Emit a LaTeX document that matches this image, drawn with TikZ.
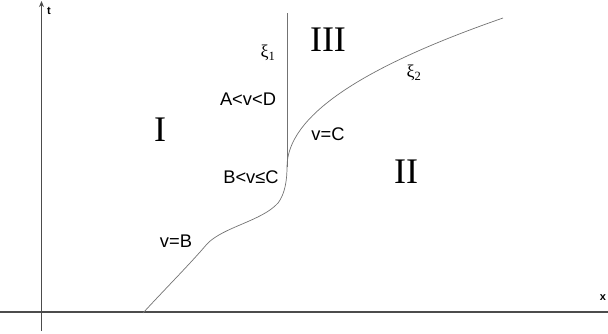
\documentclass[tikz,border=0pt]{standalone}
\usepackage{fontspec}
\setmainfont{Liberation Serif}
\setsansfont{Liberation Sans}
\usepackage{tikz}
\usetikzlibrary{arrows.meta}

\begin{document}
\begin{tikzpicture}[x=1pt, y=-1pt,
   axis/.style={draw=black!70, line width=1.3pt},
   front/.style={draw=black!55, line width=0.7pt},
   region/.style={font=\rmfamily\fontsize{36}{36}\selectfont},
   lab/.style={font=\sffamily\fontsize{18.3}{18.3}\selectfont},
   greek/.style={font=\rmfamily\fontsize{18}{18}\selectfont},
   axlab/.style={font=\sffamily\bfseries\fontsize{11}{11}\selectfont}]
  \useasboundingbox (0,0) rectangle (608,333);
  % axes
  \coordinate (xs) at (0,312);
  \coordinate (xe) at (612,312);
  \coordinate (ts) at (41.5,331);
  \coordinate (te) at (41.5,1);
  \draw[axis] (xs) -- (xe);
  \draw[axis, -{Stealth[length=6pt, width=5pt]}] (ts) -- (te);
  \node[axlab] (tlab) at (49,11) {t};
  \node[axlab] (xlab) at (603,298) {x};
  % fronts
  \coordinate (joint) at (287,167);
  \coordinate (foot) at (143,313);
  \draw[front] (joint) -- (287,13);
  \draw[front] (foot) .. controls (165,289) and (190,264) .. (207,244)
    .. controls (223,227) and (262,221) .. (278,203)
    .. controls (285,194) and (287,180) .. (joint);
  \draw[front] (joint) .. controls (287,117) and (359,68) .. (503,18);
  % regions
  \node[region] (rI) at (160,130) {I};
  \node[region] (rII) at (406,172) {II};
  \node[region] (rIII) at (328,40) {III};
  % labels
  \node[greek] (xi1) at (268,53) {ξ\textsubscript{1}};
  \node[greek] (xi2) at (414,73) {ξ\textsubscript{2}};
  \node[lab] (AD) at (248,99) {A<v<D};
  \node[lab] (vC) at (328,134) {v=C};
  \node[lab] (BC) at (251,177) {B<v≤C};
  \node[lab] (vB) at (176,241) {v=B};
\end{tikzpicture}
\end{document}
